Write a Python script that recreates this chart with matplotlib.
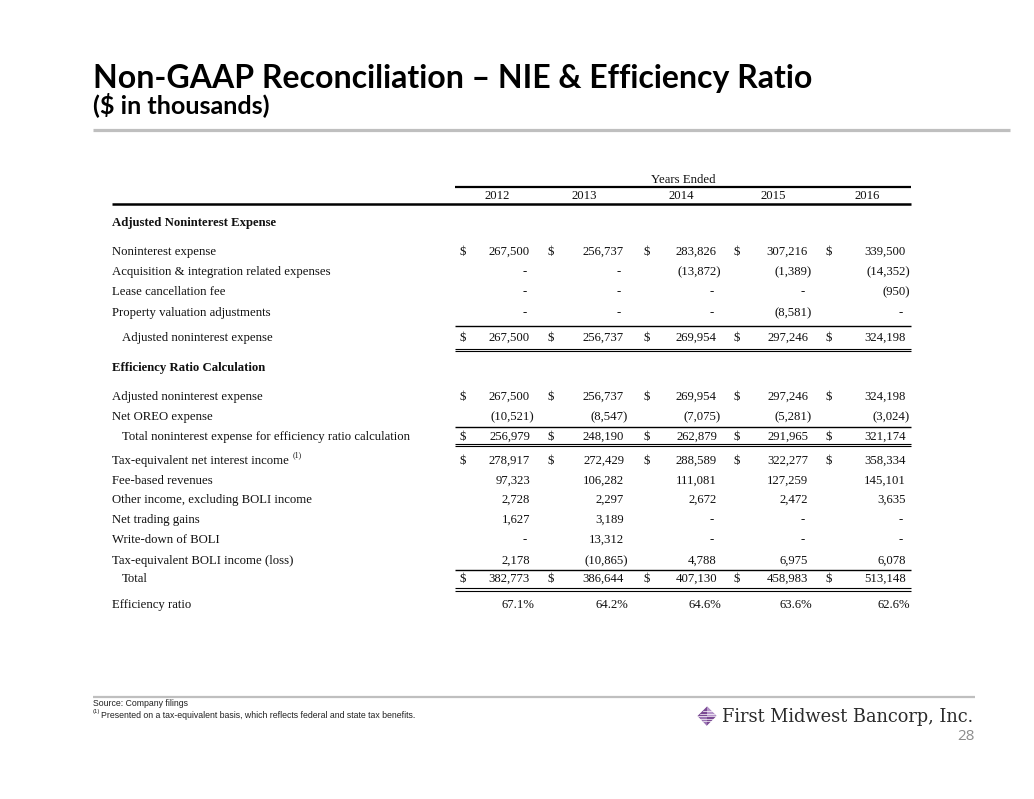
import matplotlib
matplotlib.use("Agg")
import matplotlib.pyplot as plt
from matplotlib.patches import Polygon

# ---------------- data ----------------
years = ["2012", "2013", "2014", "2015", "2016"]

noninterest_expense = [267500, 256737, 283826, 307216, 339500]
acq_integration = [None, None, -13872, -1389, -14352]
lease_cancellation = [None, None, None, None, -950]
property_valuation = [None, None, None, -8581, None]
adjusted_nie = [267500, 256737, 269954, 297246, 324198]

net_oreo = [-10521, -8547, -7075, -5281, -3024]
total_nie_eff = [256979, 248190, 262879, 291965, 321174]
te_net_interest_income = [278917, 272429, 288589, 322277, 358334]
fee_based_revenues = [97323, 106282, 111081, 127259, 145101]
other_income = [2728, 2297, 2672, 2472, 3635]
net_trading_gains = [1627, 3189, None, None, None]
writedown_boli = [None, 13312, None, None, None]
te_boli_income = [2178, -10865, 4788, 6975, 6078]
total_revenue = [382773, 386644, 407130, 458983, 513148]
efficiency_ratio = [67.1, 64.2, 64.6, 63.6, 62.6]

title = "Non-GAAP Reconciliation \u2013 NIE & Efficiency Ratio"
subtitle = "($ in thousands)"
source_note = "Source: Company filings"
footnote = "Presented on a tax-equivalent basis, which reflects federal and state tax benefits."
company = "First Midwest Bancorp, Inc."
page_no = "28"

# ---------------- figure ----------------
W, H = 1034, 799
fig = plt.figure(figsize=(W / 100, H / 100), dpi=100)
ax = fig.add_axes([0, 0, 1, 1])
ax.set_xlim(0, W)
ax.set_ylim(H, 0)
ax.axis("off")
renderer = fig.canvas.get_renderer()


def fit(t, target_w):
    bb = t.get_window_extent(renderer)
    t.set_fontsize(t.get_fontsize() * target_w / bb.width)


# header
t = ax.text(93, 88, title, fontfamily="Lato", fontweight="bold", fontsize=26,
            color="black", ha="left", va="baseline")
fit(t, 719)
t = ax.text(93, 113, subtitle, fontfamily="Lato", fontweight="bold", fontsize=18,
            color="black", ha="left", va="baseline")
fit(t, 177)
ax.plot([93, 1010], [130, 130], color="#BFBFBF", lw=2.3, solid_capstyle="butt")

# ---------------- table ----------------
SERIF = "Liberation Serif"
FS = 9.2
TC = "#111111"
label_x = 112
indent_x = 122
dollar_x = [460, 547, 643, 734, 826]
right_x = [530, 624, 717, 808, 906]
year_cx = [497, 584, 681, 773, 867]
line_l, line_r = 455, 911


def hline(y, x0=line_l, x1=line_r, lw=1.0):
    ax.plot([x0, x1], [y, y], color="black", lw=lw, solid_capstyle="butt")


def dline(y):
    hline(y - 1.3, lw=0.8)
    hline(y + 1.3, lw=0.8)


def fmt(v):
    if v is None:
        return "-"
    if v < 0:
        return "({:,})".format(-v)
    return "{:,}".format(v)


def row(y, label, values, dollar=False, indent=False, pct=False):
    lt = ax.text(indent_x if indent else label_x, y, label, fontfamily=SERIF, fontsize=FS,
                 color=TC, ha="left", va="center")
    for i, v in enumerate(values):
        if dollar:
            ax.text(dollar_x[i], y, "$", fontfamily=SERIF, fontsize=FS, color=TC,
                    ha="left", va="center")
        if pct:
            s = "{:.1f}%".format(v)
            xr = right_x[i] + 4
        else:
            s = fmt(v)
            if v is None:
                xr = right_x[i] - 3
            elif v < 0:
                xr = right_x[i] + 4
            else:
                xr = right_x[i]
        ax.text(xr, y, s, fontfamily=SERIF, fontsize=FS, color=TC, ha="right", va="center")
    return lt


ax.text(683, 180, "Years Ended", fontfamily=SERIF, fontsize=FS, color=TC, ha="center", va="center")
hline(187, lw=1.6)
for cx, yr in zip(year_cx, years):
    ax.text(cx, 196, yr, fontfamily=SERIF, fontsize=FS, color=TC, ha="center", va="center")
hline(203.5, x0=112, lw=1.8)

ax.text(label_x, 223, "Adjusted Noninterest Expense", fontfamily=SERIF, fontsize=FS,
        fontweight="bold", color=TC, ha="left", va="center")
row(252, "Noninterest expense", noninterest_expense, dollar=True)
row(272, "Acquisition & integration related expenses", acq_integration)
row(292, "Lease cancellation fee", lease_cancellation)
row(313, "Property valuation adjustments", property_valuation)
hline(325.5)
row(338, "Adjusted noninterest expense", adjusted_nie, dollar=True, indent=True)
dline(350)

ax.text(label_x, 368, "Efficiency Ratio Calculation", fontfamily=SERIF, fontsize=FS,
        fontweight="bold", color=TC, ha="left", va="center")
row(397, "Adjusted noninterest expense", adjusted_nie, dollar=True)
row(417, "Net OREO expense", net_oreo)
hline(426.5)
row(437, "Total noninterest expense for efficiency ratio calculation", total_nie_eff,
    dollar=True, indent=True)
dline(445)
lt = row(461, "Tax-equivalent net interest income", te_net_interest_income, dollar=True)
bb = lt.get_window_extent(renderer)
x_end = ax.transData.inverted().transform((bb.x1, bb.y0))[0]
ax.text(x_end + 4, 455, "(1)", fontfamily=SERIF, fontsize=5.8, color=TC, ha="left", va="center")
row(481, "Fee-based revenues", fee_based_revenues)
row(500, "Other income, excluding BOLI income", other_income)
row(520, "Net trading gains", net_trading_gains)
row(540, "Write-down of BOLI", writedown_boli)
row(561, "Tax-equivalent BOLI income (loss)", te_boli_income)
hline(569.5)
row(579, "Total", total_revenue, dollar=True, indent=True)
dline(589.5)
row(605, "Efficiency ratio", efficiency_ratio, pct=True)

# ---------------- footer ----------------
ax.plot([93, 975], [697, 697], color="#BFBFBF", lw=1.6, solid_capstyle="butt")
ax.text(93, 704, source_note, fontfamily="Liberation Sans", fontsize=6.3, color="#222222",
        ha="left", va="center")
ax.text(93, 712, "(1)", fontfamily="Liberation Sans", fontsize=4.2, color="#222222",
        ha="left", va="center")
ax.text(101, 715, footnote, fontfamily="Liberation Sans", fontsize=6.3, color="#222222",
        ha="left", va="center")

# logo icon (diamond)
cx, cy, r = 707, 716, 9.5
ax.add_patch(Polygon([[cx, cy - r], [cx + r, cy], [cx, cy + r], [cx - r, cy]], closed=True,
                     facecolor="#7A4A93", edgecolor="none"))
ax.add_patch(Polygon([[cx, cy - r], [cx + r, cy], [cx, cy]], closed=True,
                     facecolor="#B797CC", edgecolor="none"))
ax.add_patch(Polygon([[cx - r, cy], [cx, cy], [cx, cy + r]], closed=True,
                     facecolor="#9C76B4", edgecolor="none"))
for d in (-5, -2.5, 0, 2.5, 5):
    ax.plot([cx - r + abs(d), cx + r - abs(d)], [cy + d, cy + d], color="white", lw=0.5)
t = ax.text(722, 717, company, fontfamily="DejaVu Serif", fontweight="normal", fontsize=11.5,
            color="#2B2B2B", ha="left", va="center")
fit(t, 253)

ax.text(975, 736, page_no, fontfamily="Open Sans", fontsize=11, color="#8C8C8C",
        ha="right", va="center")

fig.savefig("out.png", dpi=100)
